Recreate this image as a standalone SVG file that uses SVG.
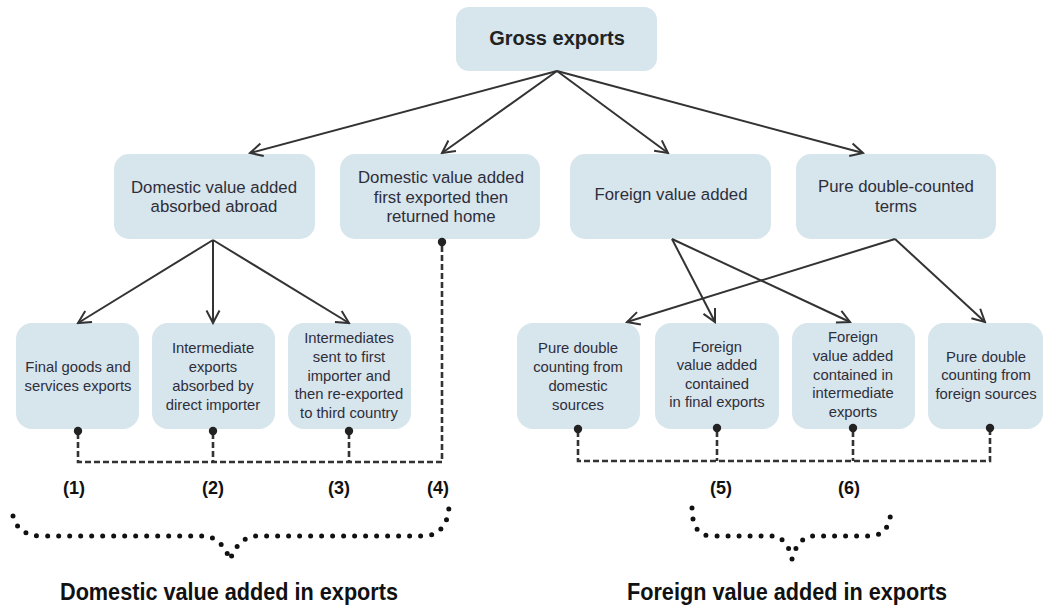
<svg xmlns="http://www.w3.org/2000/svg" width="1044" height="611" viewBox="0 0 1044 611">
<style>
.box{fill:#d7e5ed;}
.t2{font-family:"Liberation Sans",Arial,sans-serif;font-size:16.8px;fill:#2e2e3a;text-anchor:middle;}
.t3{font-family:"Liberation Sans",Arial,sans-serif;font-size:14.8px;fill:#2e2e3a;text-anchor:middle;}
.top{font-family:"Liberation Sans",Arial,sans-serif;font-size:20px;font-weight:bold;fill:#222;text-anchor:middle;}
.num{font-family:"Liberation Sans",Arial,sans-serif;font-size:18px;font-weight:bold;fill:#111;text-anchor:middle;}
.title{font-family:"Liberation Sans",Arial,sans-serif;font-size:24px;font-weight:bold;fill:#111;}
.arr{fill:none;stroke:#333;stroke-width:2;marker-end:url(#ah);}
.dash{fill:none;stroke:#333;stroke-width:2.6;stroke-dasharray:6 3;}
.dot{fill:#222;}
.brace{fill:none;stroke:#111;stroke-width:5;stroke-linecap:round;stroke-dasharray:0 11;}
</style>
<defs>
<marker id="ah" viewBox="0 0 16 16" refX="14" refY="8" markerWidth="16" markerHeight="16" markerUnits="userSpaceOnUse" orient="auto">
<path d="M1.5,1.5 L14,8 L1.5,14.5" fill="none" stroke="#333" stroke-width="2"/>
</marker>
</defs>

<g id="gross">
<rect class="box" x="456" y="7" width="201" height="64" rx="13"/>
<text class="top" x="557" y="45">Gross exports</text>
</g>

<g id="dva-abroad">
<rect class="box" x="114" y="154" width="201" height="85" rx="15"/>
<text class="t2" x="214" y="193">Domestic value added</text>
<text class="t2" x="214" y="212">absorbed abroad</text>
</g>
<g id="dva-returned">
<rect class="box" x="340" y="154" width="200" height="85" rx="15"/>
<text class="t2" x="441" y="183">Domestic value added</text>
<text class="t2" x="441" y="203">first exported then</text>
<text class="t2" x="441" y="222">returned home</text>
</g>
<g id="fva">
<rect class="box" x="570" y="154" width="201" height="85" rx="15"/>
<text class="t2" x="671" y="200">Foreign value added</text>
</g>
<g id="pdc">
<rect class="box" x="796" y="154" width="200" height="85" rx="15"/>
<text class="t2" x="896" y="192">Pure double-counted</text>
<text class="t2" x="896" y="212">terms</text>
</g>

<g id="n1">
<rect class="box" x="16" y="323" width="123" height="106" rx="16"/>
<text class="t3" x="78" y="372">Final goods and</text>
<text class="t3" x="78" y="391">services exports</text>
</g>
<g id="n2">
<rect class="box" x="152" y="323" width="123" height="106" rx="16"/>
<text class="t3" x="213" y="353">Intermediate</text>
<text class="t3" x="213" y="372">exports</text>
<text class="t3" x="213" y="391">absorbed by</text>
<text class="t3" x="213" y="410">direct importer</text>
</g>
<g id="n3">
<rect class="box" x="288" y="323" width="123" height="106" rx="16"/>
<text class="t3" x="349" y="343">Intermediates</text>
<text class="t3" x="349" y="362">sent to first</text>
<text class="t3" x="349" y="381">importer and</text>
<text class="t3" x="349" y="399">then re-exported</text>
<text class="t3" x="349" y="418">to third country</text>
</g>
<g id="n5a">
<rect class="box" x="517" y="323" width="123" height="106" rx="16"/>
<text class="t3" x="578" y="353">Pure double</text>
<text class="t3" x="578" y="372">counting from</text>
<text class="t3" x="578" y="391">domestic</text>
<text class="t3" x="578" y="410">sources</text>
</g>
<g id="n5b">
<rect class="box" x="655" y="323" width="124" height="106" rx="16"/>
<text class="t3" x="717" y="352">Foreign</text>
<text class="t3" x="717" y="370">value added</text>
<text class="t3" x="717" y="389">contained</text>
<text class="t3" x="717" y="407">in final exports</text>
</g>
<g id="n6a">
<rect class="box" x="792" y="323" width="123" height="106" rx="16"/>
<text class="t3" x="853" y="342">Foreign</text>
<text class="t3" x="853" y="361">value added</text>
<text class="t3" x="853" y="380">contained in</text>
<text class="t3" x="853" y="398">intermediate</text>
<text class="t3" x="853" y="417">exports</text>
</g>
<g id="n6b">
<rect class="box" x="928" y="323" width="115" height="106" rx="16"/>
<text class="t3" x="986" y="362">Pure double</text>
<text class="t3" x="986" y="380">counting from</text>
<text class="t3" x="986" y="399">foreign sources</text>
</g>

<g id="connectors">
<path class="arr" d="M557,71 L250,153"/>
<path class="arr" d="M557,71 L442,153"/>
<path class="arr" d="M557,71 L668,153"/>
<path class="arr" d="M557,71 L863,153"/>
<path class="arr" d="M213,240 L78,323"/>
<path class="arr" d="M213,240 L213,323"/>
<path class="arr" d="M213,240 L349,323"/>
<path class="arr" d="M672,239 L715,322"/>
<path class="arr" d="M672,239 L850,322"/>
<path class="arr" d="M895,239 L627,322"/>
<path class="arr" d="M895,239 L985,322"/>
<path class="dash" d="M78,433 V462 H442 V244"/>
<path class="dash" d="M213,433 V462"/>
<path class="dash" d="M349,433 V462"/>
<path class="dash" d="M578,431 V461 H990 V431"/>
<path class="dash" d="M717,431 V461"/>
<path class="dash" d="M853,431 V461"/>
<circle class="dot" cx="78" cy="431" r="4.2"/>
<circle class="dot" cx="213" cy="431" r="4.2"/>
<circle class="dot" cx="349" cy="431" r="4.2"/>
<circle class="dot" cx="442" cy="242" r="4.2"/>
<circle class="dot" cx="578" cy="429" r="4.2"/>
<circle class="dot" cx="717" cy="428" r="4.2"/>
<circle class="dot" cx="853" cy="428" r="4.2"/>
<circle class="dot" cx="990" cy="428" r="4.2"/>
</g>

<g id="labels">
<text class="num" x="74" y="494">(1)</text>
<text class="num" x="213" y="494">(2)</text>
<text class="num" x="339" y="494">(3)</text>
<text class="num" x="438" y="494">(4)</text>
<text class="num" x="721" y="494">(5)</text>
<text class="num" x="849" y="494">(6)</text>
</g>

<g id="braces">
<path class="brace" d="M13,516 Q18,536 42,536 L205,536 Q222,538 230,560 Q238,538 255,536 L425,536 Q447,534 449,507"/>
<path class="brace" d="M692,508 Q692,536 712,536 L775,536 Q788,540 792,559 Q797,540 810,536 L872,536 Q891,534 891,507"/>
</g>

<g id="titles">
<text class="title" x="60" y="600" textLength="338" lengthAdjust="spacingAndGlyphs">Domestic value added in exports</text>
<text class="title" x="627" y="600" textLength="320" lengthAdjust="spacingAndGlyphs">Foreign value added in exports</text>
</g>
</svg>
